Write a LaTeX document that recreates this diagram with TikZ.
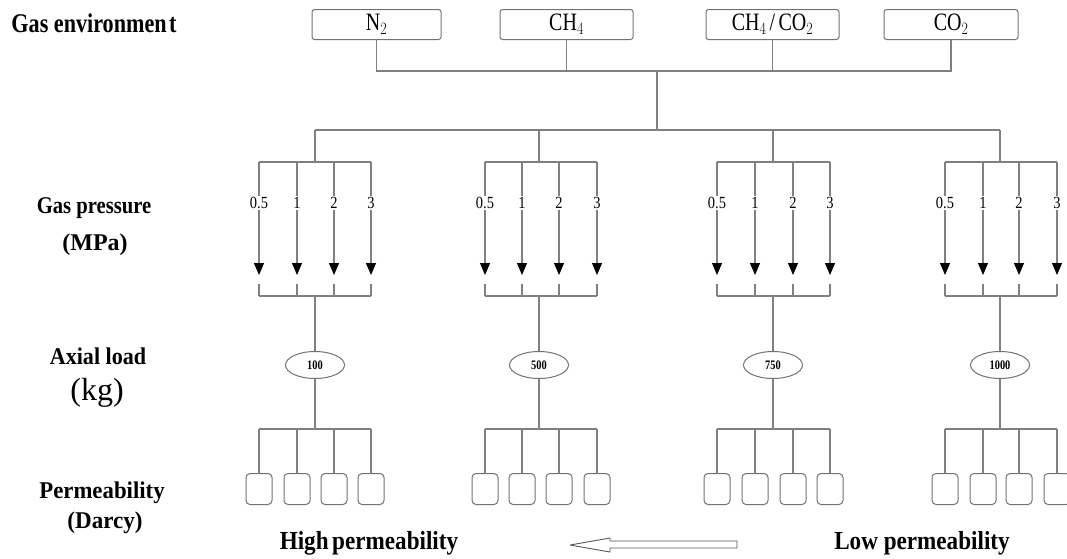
\documentclass[tikz,border=0pt]{standalone}
\usepackage{fontspec}
\setmainfont{Liberation Serif}
\usetikzlibrary{arrows.meta,shapes.geometric}
\newcommand{\condtxt}[2]{\scalebox{#1}[1]{#2}}
\begin{document}
\begin{tikzpicture}[x=1pt,y=-1pt,
  conn/.style={draw=black!50, line width=1.1pt},
  gasbox/.style={draw=black!55, line width=1pt, rounded corners=2.5pt, minimum height=30pt, inner sep=0pt,
    font=\fontsize{25}{25}\selectfont},
  sidelbl/.style={anchor=base, inner sep=0pt, font=\fontsize{24}{24}\selectfont\bfseries},
  plbl/.style={inner sep=1pt, font=\fontsize{17}{17}\selectfont},
  loadell/.style={ellipse, draw=black!55, line width=1pt, minimum width=59pt, minimum height=27pt, inner sep=0pt,
    font=\fontsize{13}{13}\selectfont\bfseries},
  permbox/.style={draw=black!55, line width=1pt, rounded corners=4pt, minimum width=26pt, minimum height=31pt, inner sep=0pt},
  tip/.style={-{Triangle[width=10pt,length=12pt,black]}}
]
\clip (0,0) rectangle (1067,558);
\fill[white] (0,0) rectangle (1067,558);

% side labels
\node[sidelbl, font=\fontsize{27}{27}\selectfont\bfseries] (lgas) at (94,32) {\condtxt{0.82}{Gas environmen\kern3pt t}};
\node[sidelbl] (lpres) at (94,213) {\condtxt{0.86}{Gas pressure}};
\node[sidelbl] (lmpa) at (95,250) {(MPa)};
\node[sidelbl] (laxial) at (98,364) {\condtxt{0.92}{Axial load}};
\node[anchor=base, inner sep=0pt, font=\fontsize{32}{32}\selectfont] (lkg) at (97,400) {(kg)};
\node[sidelbl] (lperm) at (102,498) {\condtxt{0.95}{Permeability}};
\node[sidelbl] (ldarcy) at (105,528) {\condtxt{0.96}{(Darcy)}};
\node[sidelbl, font=\fontsize{26}{26}\selectfont\bfseries] (lhigh) at (369,549) {\condtxt{0.89}{High\kern4pt permeability}};
\node[sidelbl, font=\fontsize{26}{26}\selectfont\bfseries] (llow) at (922,549) {\condtxt{0.89}{Low permeability}};

% gas boxes
\node[gasbox, minimum width=129pt] (n2) at (376.5,24.5) {\condtxt{0.8}{N$_2$}};
\node[gasbox, minimum width=133pt] (ch4) at (566.5,24.5) {\condtxt{0.8}{CH$_4$}};
\node[gasbox, minimum width=133pt] (mix) at (772.5,24.5) {\condtxt{0.8}{CH$_4$\,/\,CO$_2$}};
\node[gasbox, minimum width=134pt] (co2) at (951,24.5) {\condtxt{0.8}{CO$_2$}};

\coordinate (hubA) at (657,71);
\coordinate (hubB) at (657,130);
\draw[conn] (n2.south) |- (hubA) -| (co2.south);
\draw[conn] (ch4.south) -- (ch4.south |- hubA);
\draw[conn] (mix.south) -- (mix.south |- hubA);
\draw[conn] (hubA) -- (hubB);

% groups: index / center x / arrow xs / ellipse label
\foreach \g/\cx/\xa/\xb/\xc/\xd/\ld in {
  1/315/259/297/334/371/100,
  2/539/485/522/559/597/500,
  3/773/717/755/793/830/750,
  4/1000/945/983/1019/1057/1000}{
  \coordinate (gt\g) at (\cx,130);
  \coordinate (gb\g) at (\cx,162);
  \coordinate (gl\g) at (\cx,296);
  \coordinate (gc\g) at (\cx,429);
  \draw[conn] (gt\g) -- (gb\g);
  \draw[conn] (\xa,162) -- (\xd,162);
  \draw[conn] (\xa,296) -- (\xd,296);
  \node[loadell] (e\g) at (\cx,365) {\condtxt{0.8}{\ld}};
  \draw[conn] (gl\g) -- (e\g.north);
  \draw[conn] (e\g.south) -- (gc\g);
  \draw[conn] (\xa,429) -- (\xd,429);
  \foreach \i/\px/\pl in {1/\xa/0.5, 2/\xb/1, 3/\xc/2, 4/\xd/3}{
    \coordinate (a\g\i) at (\px,162);
    \node[plbl] (p\g\i) at (\px,203) {\condtxt{0.85}{\pl}};
    \coordinate (t\g\i) at (\px,275);
    \coordinate (u\g\i) at (\px,284);
    \coordinate (v\g\i) at (\px,296);
    \draw[conn] (a\g\i) -- (p\g\i.north);
    \draw[conn, tip] (p\g\i.south) -- (t\g\i);
    \draw[conn] (u\g\i) -- (v\g\i);
    \node[permbox] (b\g\i) at (\px,489) {};
    \draw[conn] (\px,429) -- (b\g\i.north);
  }
}
\draw[conn] (gt1) -- (gt4);

% direction arrow
\draw[black!65, line width=0.9pt, line join=round]
  (737,541) -- (610,541) -- (610,538) -- (570,545) -- (610,552) -- (610,548) -- (737,548) -- cycle;
\end{tikzpicture}
\end{document}
